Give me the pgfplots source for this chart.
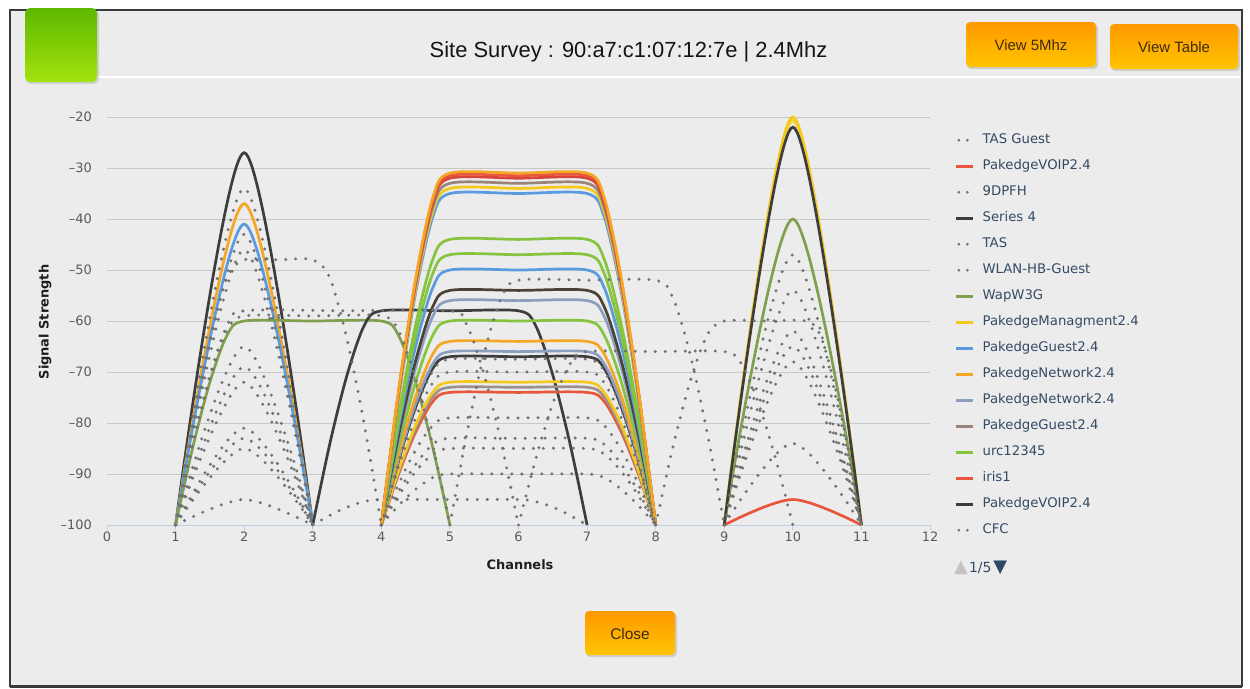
\documentclass[border=0pt]{standalone}
\usepackage{fontspec}
\setmainfont{DejaVu Sans}
\newfontfamily\arialf{Liberation Sans}
\usepackage{pgfplots}
\pgfplotsset{compat=1.18}
\usetikzlibrary{shadings}
\definecolor{bg}{HTML}{ECECEC}
\definecolor{framec}{HTML}{3A3A3A}
\definecolor{gridc}{HTML}{C8C8C8}
\definecolor{axisc}{HTML}{C0D0E0}
\definecolor{ticklab}{HTML}{5A5A5A}
\definecolor{labc}{HTML}{1E1E1E}
\definecolor{legtext}{HTML}{344A64}
\definecolor{dotc}{HTML}{727272}
\definecolor{cOrange}{HTML}{F5A623}
\definecolor{cRed}{HTML}{E8573C}
\definecolor{cRed2}{HTML}{D8443A}
\definecolor{cBrown}{HTML}{9A8478}
\definecolor{cYellow}{HTML}{F5C81C}
\definecolor{cYellow2}{HTML}{EFD83A}
\definecolor{cBlue}{HTML}{5A9BE0}
\definecolor{cGreen}{HTML}{86C440}
\definecolor{cDark}{HTML}{3D3D3D}
\definecolor{cDarkBrown}{HTML}{4A4234}
\definecolor{cGrayBlue}{HTML}{8C9FC0}
\definecolor{cGray}{HTML}{9A9090}
\definecolor{cOlive}{HTML}{80A050}
\definecolor{btnTop}{HTML}{FF9900}
\definecolor{btnBot}{HTML}{FFC400}
\definecolor{btnText}{HTML}{3D2B12}
\definecolor{tabTop}{HTML}{5DB800}
\definecolor{tabBot}{HTML}{A4E30C}
\definecolor{pgUp}{HTML}{C4C4C4}
\definecolor{pgDn}{HTML}{2E4A66}
\pgfplotsset{
  sol/.style={line width=2.7bp, smooth, mark=none},
  dts/.style={color=dotc, line width=3.3bp, line cap=round, dash pattern=on 0bp off 10bp, smooth, mark=none},
  lineleg/.style={legend image code/.code={\draw[##1] (0bp,0bp) -- (17bp,0bp);}},
  dotleg/.style={legend image code/.code={\draw[##1] (2.5bp,0bp) -- (11bp,0bp);}},
}
\begin{document}
\begin{tikzpicture}
% page and frame
\fill[white] (0bp,0bp) rectangle (1250bp,-689bp);
\fill[bg] (10bp,-10bp) rectangle (1242bp,-686bp);
\draw[framec, line width=2.5bp] (10bp,-10bp) rectangle (1242bp,-686bp);
\draw[framec, line width=3bp] (10bp,-686bp) -- (1242bp,-686bp);
% header separator
\draw[white, line width=1.6bp] (97bp,-77bp) -- (1241bp,-77bp);
% green tab
\fill[black, opacity=0.12, rounded corners=5bp] (26bp,-9bp) rectangle (99bp,-84bp);
\shade[top color=tabTop, bottom color=tabBot, rounded corners=5bp] (25bp,-8bp) rectangle (97bp,-82bp);
% title
\node[anchor=base, inner sep=0pt, font=\arialf\fontsize{22}{25}\selectfont, text=black!92] at (628.5bp,-57bp) {Site Survey : 90:a7:c1:07:12:7e | 2.4Mhz};
% buttons
\fill[black, opacity=0.13, rounded corners=4bp] (967bp,-24bp) rectangle (1098bp,-69bp);
\shade[top color=btnTop, bottom color=btnBot, rounded corners=4bp] (966bp,-22bp) rectangle (1096bp,-67bp);
\node[anchor=base, inner sep=0pt, font=\arialf\fontsize{15}{18}\selectfont, text=btnText] at (1031bp,-50bp) {View 5Mhz};
\fill[black, opacity=0.13, rounded corners=4bp] (1111bp,-26bp) rectangle (1240bp,-71bp);
\shade[top color=btnTop, bottom color=btnBot, rounded corners=4bp] (1110bp,-24bp) rectangle (1238bp,-69bp);
\node[anchor=base, inner sep=0pt, font=\arialf\fontsize{15}{18}\selectfont, text=btnText] at (1174bp,-52bp) {View Table};
\fill[black, opacity=0.13, rounded corners=4bp] (586bp,-613bp) rectangle (677bp,-657bp);
\shade[top color=btnTop, bottom color=btnBot, rounded corners=4bp] (585bp,-611bp) rectangle (675bp,-655bp);
\node[anchor=base, inner sep=0pt, font=\arialf\fontsize{15.5}{18}\selectfont, text=btnText] at (630bp,-639bp) {Close};
% pager
\node[anchor=west, inner sep=0pt] at (954bp,-568bp) {\textcolor{pgUp}{\fontsize{18}{18}\selectfont ▲}\hspace{1bp}\textcolor{legtext}{\fontsize{14}{16}\selectfont 1/5}\hspace{2bp}\textcolor{pgDn}{\fontsize{18}{18}\selectfont ▼}};

\begin{axis}[
  at={(107bp,-525bp)}, anchor=south west,
  scale only axis, width=823bp, height=408bp,
  xmin=0, xmax=12, ymin=-100, ymax=-20,
  clip=false,
  axis x line*=bottom, axis y line*=left,
  x axis line style={draw=axisc, line width=1bp, -},
  y axis line style={draw=none, -},
  xtick={0,1,2,3,4,5,6,7,8,9,10,11,12},
  xticklabels={0,1,2,3,4,5,6,7,8,9,10,11,12},
  ytick={-100,-90,-80,-70,-60,-50,-40,-30,-20},
  yticklabels={–100,–90,–80,–70,–60,–50,–40,–30,–20},
  ymajorgrids, xmajorgrids=false,
  grid style={draw=gridc, line width=1bp},
  xtick style={draw=axisc, line width=1bp},
  ytick style={draw=none},
  tick align=outside, major tick length=5bp,
  tick label style={font=\fontsize{13}{15}\selectfont, text=ticklab},
  xticklabel style={inner sep=0pt, yshift=-2bp},
  yticklabel style={inner sep=0pt, xshift=-10bp},
  every axis x label/.style={at={(0.5018,-0.098)}, anchor=center, font=\bfseries\fontsize{13}{15}\selectfont, text=labc},
  every axis y label/.style={at={(-0.0753,0.4975)}, rotate=90, anchor=center, font=\bfseries\fontsize{13}{15}\selectfont, text=labc},
  xlabel={Channels}, ylabel={Signal Strength},
  legend style={at={(1.0304,0.959)}, anchor=north west, draw=none, fill=none, inner sep=0pt, outer sep=0pt,
    row sep=13bp, column sep=8bp, font=\fontsize{13.3}{15}\selectfont, text=legtext,
    nodes={inner sep=0pt, text height=10bp, text depth=3bp}},
  legend cell align=left,
  legend entries={TAS Guest, PakedgeVOIP2.4, 9DPFH, Series 4, TAS, WLAN-HB-Guest, WapW3G, PakedgeManagment2.4, PakedgeGuest2.4, PakedgeNetwork2.4, PakedgeNetwork2.4, PakedgeGuest2.4, urc12345, iris1, PakedgeVOIP2.4, CFC},
]
% legend images
\addlegendimage{dotleg, dotc, line width=3bp, line cap=round, dash pattern=on 0bp off 8.5bp}
\addlegendimage{lineleg, cRed, line width=2.6bp}
\addlegendimage{dotleg, dotc, line width=3bp, line cap=round, dash pattern=on 0bp off 8.5bp}
\addlegendimage{lineleg, cDark, line width=2.6bp}
\addlegendimage{dotleg, dotc, line width=3bp, line cap=round, dash pattern=on 0bp off 8.5bp}
\addlegendimage{dotleg, dotc, line width=3bp, line cap=round, dash pattern=on 0bp off 8.5bp}
\addlegendimage{lineleg, cOlive, line width=2.6bp}
\addlegendimage{lineleg, cYellow, line width=2.6bp}
\addlegendimage{lineleg, cBlue, line width=2.6bp}
\addlegendimage{lineleg, cOrange, line width=2.6bp}
\addlegendimage{lineleg, cGrayBlue, line width=2.6bp}
\addlegendimage{lineleg, cBrown, line width=2.6bp}
\addlegendimage{lineleg, cGreen, line width=2.6bp}
\addlegendimage{lineleg, cRed, line width=2.6bp}
\addlegendimage{lineleg, cDark, line width=2.6bp}
\addlegendimage{dotleg, dotc, line width=3bp, line cap=round, dash pattern=on 0bp off 8.5bp}

% ---- solid: channel 2 arches
\addplot[sol, draw=cDark] coordinates {(1,-100)(2,-27)(3,-100)};
\addplot[sol, draw=cOrange] coordinates {(1,-100)(2,-37)(3,-100)};
\addplot[sol, draw=cBlue] coordinates {(1,-100)(2,-41)(3,-100)};
% ---- WapW3G (1..5)
\addplot[sol, draw=cOlive] coordinates {(1,-100)(1.25,-84.8)(1.5,-72)(1.75,-62.8)(2,-60)(3,-60)(4,-60)(4.25,-62.8)(4.5,-72)(4.75,-84.8)(5,-100)};
% ---- Series 4 (3..7)
\addplot[sol, draw=cDark] coordinates {(3,-100)(3.25,-84)(3.5,-70.6)(3.75,-60.9)(4,-58)(5,-58)(6,-58)(6.25,-60.9)(6.5,-70.6)(6.75,-84)(7,-100)};
% ---- channels 4..8 group
\addplot[sol, draw=cRed] coordinates {(4,-100)(4.25,-90.1)(4.5,-81.8)(4.75,-75.8)(5,-74)(6,-74)(7,-74)(7.25,-75.8)(7.5,-81.8)(7.75,-90.1)(8,-100)};
\addplot[sol, draw=cGray] coordinates {(4,-100)(4.25,-89.7)(4.5,-81.1)(4.75,-74.9)(5,-73)(6,-73)(7,-73)(7.25,-74.9)(7.5,-81.1)(7.75,-89.7)(8,-100)};
\addplot[sol, draw=cYellow] coordinates {(4,-100)(4.25,-89.4)(4.5,-80.4)(4.75,-74.0)(5,-72)(6,-72)(7,-72)(7.25,-74.0)(7.5,-80.4)(7.75,-89.4)(8,-100)};
\addplot[sol, draw=cDark] coordinates {(4,-100)(4.25,-87.5)(4.5,-76.9)(4.75,-69.3)(5,-67)(6,-67)(7,-67)(7.25,-69.3)(7.5,-76.9)(7.75,-87.5)(8,-100)};
\addplot[sol, draw=cGrayBlue] coordinates {(4,-100)(4.25,-87.1)(4.5,-76.2)(4.75,-68.4)(5,-66)(6,-66)(7,-66)(7.25,-68.4)(7.5,-76.2)(7.75,-87.1)(8,-100)};
\addplot[sol, draw=cOrange] coordinates {(4,-100)(4.25,-86.3)(4.5,-74.8)(4.75,-66.5)(5,-64)(6,-64)(7,-64)(7.25,-66.5)(7.5,-74.8)(7.75,-86.3)(8,-100)};
\addplot[sol, draw=cGreen] coordinates {(4,-100)(4.25,-84.8)(4.5,-72)(4.75,-62.8)(5,-60)(6,-60)(7,-60)(7.25,-62.8)(7.5,-72)(7.75,-84.8)(8,-100)};
\addplot[sol, draw=cGrayBlue] coordinates {(4,-100)(4.25,-83.3)(4.5,-69.2)(4.75,-59.1)(5,-56)(6,-56)(7,-56)(7.25,-59.1)(7.5,-69.2)(7.75,-83.3)(8,-100)};
\addplot[sol, draw=cDarkBrown] coordinates {(4,-100)(4.25,-82.5)(4.5,-67.8)(4.75,-57.2)(5,-54)(6,-54)(7,-54)(7.25,-57.2)(7.5,-67.8)(7.75,-82.5)(8,-100)};
\addplot[sol, draw=cBlue] coordinates {(4,-100)(4.25,-81)(4.5,-65)(4.75,-53.5)(5,-50)(6,-50)(7,-50)(7.25,-53.5)(7.5,-65)(7.75,-81)(8,-100)};
\addplot[sol, draw=cGreen] coordinates {(4,-100)(4.25,-79.9)(4.5,-62.9)(4.75,-50.7)(5,-47)(6,-47)(7,-47)(7.25,-50.7)(7.5,-62.9)(7.75,-79.9)(8,-100)};
\addplot[sol, draw=cGreen] coordinates {(4,-100)(4.25,-78.7)(4.5,-60.8)(4.75,-47.9)(5,-44)(6,-44)(7,-44)(7.25,-47.9)(7.5,-60.8)(7.75,-78.7)(8,-100)};
\addplot[sol, draw=cBlue] coordinates {(4,-100)(4.25,-75.3)(4.5,-54.5)(4.75,-39.6)(5,-35)(6,-35)(7,-35)(7.25,-39.6)(7.5,-54.5)(7.75,-75.3)(8,-100)};
\addplot[sol, draw=cYellow] coordinates {(4,-100)(4.25,-74.9)(4.5,-53.8)(4.75,-38.6)(5,-34)(6,-34)(7,-34)(7.25,-38.6)(7.5,-53.8)(7.75,-74.9)(8,-100)};
\addplot[sol, draw=cBrown] coordinates {(4,-100)(4.25,-74.5)(4.5,-53.1)(4.75,-37.7)(5,-33)(6,-33)(7,-33)(7.25,-37.7)(7.5,-53.1)(7.75,-74.5)(8,-100)};
\addplot[sol, draw=cRed2] coordinates {(4,-100)(4.25,-74.2)(4.5,-52.4)(4.75,-36.8)(5,-32)(6,-32)(7,-32)(7.25,-36.8)(7.5,-52.4)(7.75,-74.2)(8,-100)};
\addplot[sol, draw=cRed] coordinates {(4,-100)(4.25,-74.0)(4.5,-52.1)(4.75,-36.3)(5,-31.5)(6,-31.5)(7,-31.5)(7.25,-36.3)(7.5,-52.1)(7.75,-74.0)(8,-100)};
\addplot[sol, draw=cOrange] coordinates {(4,-100)(4.25,-73.8)(4.5,-51.7)(4.75,-35.8)(5,-31)(6,-31)(7,-31)(7.25,-35.8)(7.5,-51.7)(7.75,-73.8)(8,-100)};
% ---- channel 10 arches
\addplot[sol, draw=cRed] coordinates {(9,-100)(10,-95)(11,-100)};
\addplot[sol, draw=cOlive] coordinates {(9,-100)(10,-40)(11,-100)};
\addplot[sol, draw=cYellow2] coordinates {(9,-100)(10,-20.7)(11,-100)};
\addplot[sol, draw=cYellow] coordinates {(9,-100)(10,-20)(11,-100)};
\addplot[sol, draw=cDark] coordinates {(9,-100)(10,-22)(11,-100)};

% ---- dotted series
\addplot[dts] coordinates {(1,-100)(2,-34)(3,-100)};
\addplot[dts] coordinates {(1,-100)(2,-43)(3,-100)};
\addplot[dts] coordinates {(1,-100)(2,-46)(3,-100)};
\addplot[dts] coordinates {(1,-100)(2,-65)(3,-100)};
\addplot[dts] coordinates {(1,-100)(2,-69)(3,-100)};
\addplot[dts] coordinates {(1,-100)(2,-72)(3,-100)};
\addplot[dts] coordinates {(1,-100)(2,-81)(3,-100)};
\addplot[dts] coordinates {(1,-100)(2,-83)(3,-100)};
\addplot[dts] coordinates {(1,-100)(2,-85)(3,-100)};
\addplot[dts] coordinates {(1,-100)(2,-95)(3,-100)};
\addplot[dts] coordinates {(1,-100)(1.25,-84.4)(1.5,-71.3)(1.75,-61.9)(2,-59)(3,-59)(4,-59)(4.25,-61.9)(4.5,-71.3)(4.75,-84.4)(5,-100)};
\addplot[dts] coordinates {(1,-100)(1.25,-84)(1.5,-70.6)(1.75,-60.9)(2,-58)(3.5,-58)(5,-58)(5.25,-60.9)(5.5,-70.6)(5.75,-84)(6,-100)};
\addplot[dts] coordinates {(1,-100)(1.25,-80.2)(1.5,-63.6)(1.75,-51.6)(2,-48)(2.5,-48)(3,-48)(3.25,-51.6)(3.5,-63.6)(3.75,-80.2)(4,-100)};
\addplot[dts] coordinates {(5,-100)(5.25,-81.8)(5.5,-66.4)(5.75,-55.4)(6,-52)(7,-52)(8,-52)(8.25,-55.4)(8.5,-66.4)(8.75,-81.8)(9,-100)};
\addplot[dts] coordinates {(6,-100)(6.25,-87.1)(6.5,-76.2)(6.75,-68.4)(7,-66)(8,-66)(9,-66)(9.25,-68.4)(9.5,-76.2)(9.75,-87.1)(10,-100)};
\addplot[dts] coordinates {(8,-100)(8.25,-84.8)(8.5,-72)(8.75,-62.8)(9,-60)(9.6,-60)(10.2,-60)(10.4,-62.8)(10.6,-72)(10.8,-84.8)(11,-100)};
\addplot[dts] coordinates {(4,-100)(4.25,-87.7)(4.5,-77.3)(4.75,-69.8)(5,-67.5)(6,-67.5)(7,-67.5)(7.25,-69.8)(7.5,-77.3)(7.75,-87.7)(8,-100)};
\addplot[dts] coordinates {(4,-100)(4.25,-88.6)(4.5,-79)(4.75,-72.1)(5,-70)(6,-70)(7,-70)(7.25,-72.1)(7.5,-79)(7.75,-88.6)(8,-100)};
\addplot[dts] coordinates {(4,-100)(4.25,-92)(4.5,-85.3)(4.75,-80.5)(5,-79)(6,-79)(7,-79)(7.25,-80.5)(7.5,-85.3)(7.75,-92)(8,-100)};
\addplot[dts] coordinates {(4,-100)(4.25,-93.5)(4.5,-88.1)(4.75,-84.2)(5,-83)(6,-83)(7,-83)(7.25,-84.2)(7.5,-88.1)(7.75,-93.5)(8,-100)};
\addplot[dts] coordinates {(4,-100)(4.25,-94.3)(4.5,-89.5)(4.75,-86.1)(5,-85)(6,-85)(7,-85)(7.25,-86.1)(7.5,-89.5)(7.75,-94.3)(8,-100)};
\addplot[dts] coordinates {(4,-100)(4.25,-96.2)(4.5,-93)(4.75,-90.7)(5,-90)(6,-90)(7,-90)(7.25,-90.7)(7.5,-93)(7.75,-96.2)(8,-100)};
\addplot[dts] coordinates {(3,-100)(3.25,-98.1)(3.5,-96.5)(3.75,-95.4)(4,-95)(5,-95)(6,-95)(6.25,-95.4)(6.5,-96.5)(6.75,-98.1)(7,-100)};
\addplot[dts] coordinates {(9,-100)(10,-47)(11,-100)};
\addplot[dts] coordinates {(9,-100)(10,-54)(11,-100)};
\addplot[dts] coordinates {(9,-100)(10,-62)(11,-100)};
\addplot[dts] coordinates {(9,-100)(10,-65)(11,-100)};
\addplot[dts] coordinates {(9,-100)(10,-68)(11,-100)};
\addplot[dts] coordinates {(9,-100)(10,-84)(11,-100)};
\end{axis}
\end{tikzpicture}
\end{document}
